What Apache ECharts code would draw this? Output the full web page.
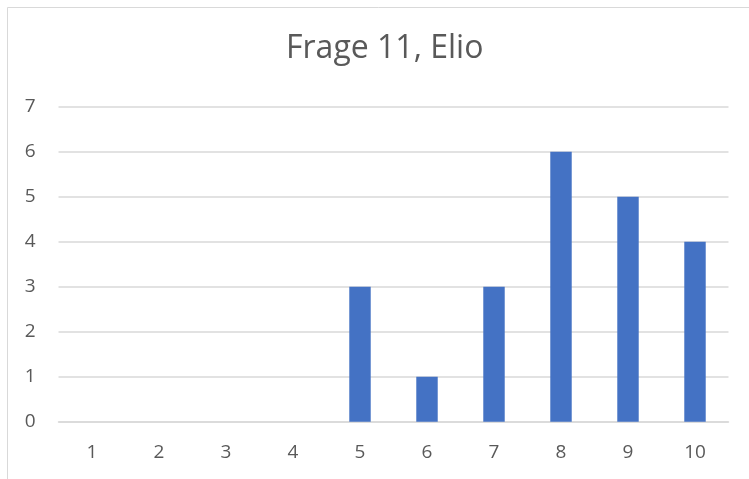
<!DOCTYPE html>
<html>
<head>
<meta charset="utf-8">
<script src="https://cdn.jsdelivr.net/npm/echarts@6/dist/echarts.min.js"></script>
<style>
  html, body { margin: 0; padding: 0; background: #fff; }
  #chart { width: 749px; height: 479px; }
</style>
</head>
<body>
<div id="chart"></div>
<script>
// Answer scale for question 11 and how often each value was chosen
const categories = ['1', '2', '3', '4', '5', '6', '7', '8', '9', '10'];
const counts = [0, 0, 0, 0, 3, 1, 3, 6, 5, 4];
const yTicks = { min: 0, max: 7, interval: 1 };
const titleText = 'Frage 11, Elio';

const textColor = '#595959';
const fontFamily = '"Open Sans", sans-serif';

const chart = echarts.init(document.getElementById('chart'), null, { renderer: 'canvas' });
chart.setOption({
  animation: false,
  backgroundColor: '#ffffff',
  title: {
    text: titleText,
    left: 281,
    top: 28,
    textStyle: { color: textColor, fontSize: 32, fontWeight: 'normal', fontFamily: fontFamily }
  },
  graphic: [{
    type: 'rect',
    shape: { x: 7.5, y: 7.5, width: 800, height: 600 },
    style: { fill: 'none', stroke: '#d9d9d9', lineWidth: 1 },
    silent: true
  }],
  grid: { left: 58.5, right: 20.5, top: 106.7, bottom: 57.3, containLabel: false },
  xAxis: {
    type: 'category',
    data: categories,
    axisLine: { show: true, lineStyle: { color: '#d9d9d9', width: 1.5 } },
    axisTick: { show: false },
    axisLabel: { color: textColor, fontSize: 19, fontFamily: fontFamily, margin: 21 }
  },
  yAxis: {
    type: 'value',
    min: yTicks.min,
    max: yTicks.max,
    interval: yTicks.interval,
    axisLine: { show: false },
    axisTick: { show: false },
    splitLine: { lineStyle: { color: '#d9d9d9', width: 1.5 } },
    axisLabel: { color: textColor, fontSize: 19, fontFamily: fontFamily, margin: 23 }
  },
  series: [{
    type: 'bar',
    data: counts,
    barWidth: '32%',
    itemStyle: { color: '#4472C4' }
  }]
});
</script>
</body>
</html>
